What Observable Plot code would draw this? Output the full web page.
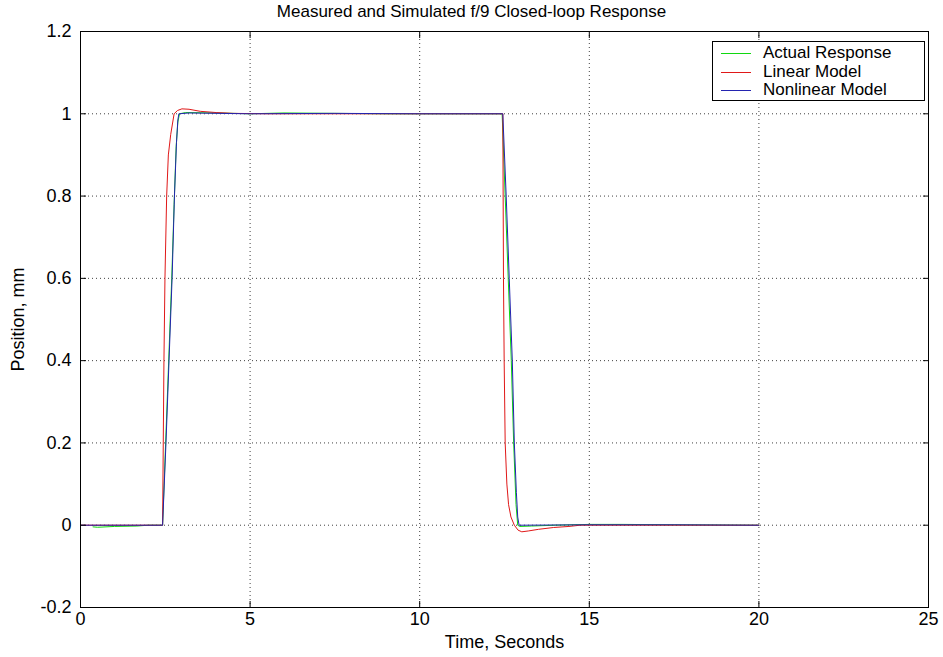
<!DOCTYPE html>
<html>
<head>
<meta charset="utf-8">
<script src="https://cdn.jsdelivr.net/npm/d3@7"></script>
<script src="https://cdn.jsdelivr.net/npm/@observablehq/plot@0.6"></script>
<style>
  body { margin: 0; background: #fff; }
  #wrap { position: relative; width: 943px; height: 657px; font-family: "Liberation Sans", Arial, sans-serif; color: #000; }
  #title { height: 24px; line-height: 24px; text-align: center; font-size: 17px; }
  #legend { position: absolute; left: 712px; top: 41px; width: 211px; height: 58px; border: 1px solid #000; background: #fff; }
  .row { position: absolute; left: 0; height: 18px; width: 100%; }
  .sw { position: absolute; left: 8px; width: 30px; top: 9px; height: 0; border-top: 1px solid; }
  .lb { position: absolute; left: 50px; top: 0; line-height: 18px; font-size: 17px; white-space: nowrap; }
</style>
</head>
<body>
<div id="wrap">
  <div id="title">Measured and Simulated f/9 Closed-loop Response</div>
  <div id="chart"></div>
  <div id="legend"></div>
</div>
<script>
// ---- data ----
const seriesNames = ["Actual Response", "Linear Model", "Nonlinear Model"];
const seriesColors = ["#10d810", "#e01818", "#2424b0"];

const xTicks = [0, 5, 10, 15, 20, 25];
const yTicks = [-0.2, 0, 0.2, 0.4, 0.6, 0.8, 1, 1.2];
const yTickLabels = ["-0.2", "0", "0.2", "0.4", "0.6", "0.8", "1", "1.2"];

const actualT = [0.37, 0.5, 1.0, 1.66, 2.0, 2.42, 2.51, 2.6, 2.69, 2.76, 2.82, 2.87, 2.92, 3.1, 4, 5, 6, 7.5, 9, 10, 12.43, 12.52, 12.61, 12.7, 12.77, 12.84, 12.89, 12.95, 13.3, 14, 15, 16, 17.5, 20];
const actualY = [-0.004, -0.005, -0.003, -0.002, 0, 0, 0.2, 0.4, 0.6, 0.78, 0.92, 0.98, 1.0, 1.003, 1.002, 1.0, 1.002, 1.001, 1.0, 1.0, 1.0, 0.8, 0.6, 0.4, 0.2, 0.05, 0.0, -0.003, -0.002, 0, 0.002, 0.002, 0.001, 0];

const linearT = [0, 2.42, 2.44, 2.46, 2.49, 2.54, 2.59, 2.66, 2.76, 2.86, 2.99, 3.2, 3.53, 4.0, 4.5, 5.5, 7.5, 10, 12.45, 12.46, 12.47, 12.49, 12.52, 12.57, 12.62, 12.69, 12.79, 12.9, 13.01, 13.2, 13.5, 13.94, 14.4, 14.73, 17.5, 20];
const linearY = [0, 0, 0.2, 0.4, 0.6, 0.8, 0.9, 0.95, 1.0, 1.008, 1.012, 1.011, 1.006, 1.003, 1.001, 1.0, 1.0, 1.0, 1.0, 0.8, 0.6, 0.4, 0.2, 0.1, 0.05, 0.02, 0, -0.012, -0.016, -0.014, -0.01, -0.0056, -0.003, 0, 0, 0];

const nonlinT = [0, 2.42, 2.52, 2.61, 2.70, 2.77, 2.83, 2.87, 2.9, 3.2, 5, 7.5, 10, 12.45, 12.55, 12.64, 12.73, 12.79, 12.85, 12.89, 12.93, 15, 17.5, 20];
const nonlinY = [0, 0, 0.2, 0.4, 0.6, 0.8, 0.93, 0.985, 1.0, 1.002, 1.0, 1.001, 1.0, 1.0, 0.8, 0.6, 0.4, 0.2, 0.08, 0.02, 0, 0.001, 0.001, 0];

const xLabel = "Time, Seconds";
const yLabel = "Position, mm";

// ---- build ----
const toRows = (T, Y) => T.map((t, i) => ({t, v: Y[i]}));
const series = [toRows(actualT, actualY), toRows(linearT, linearY), toRows(nonlinT, nonlinY)];
const innerX = xTicks.slice(1, -1);
const innerY = yTicks.slice(1, -1);
const fmtY = d => yTickLabels[yTicks.indexOf(d)];

const chart = Plot.plot({
  width: 943,
  height: 633,
  marginLeft: 80,
  marginRight: 15,
  marginTop: 7,
  marginBottom: 50,
  style: {fontFamily: "Liberation Sans, Arial, sans-serif", fontSize: "18px", color: "#000", background: "#fff", overflow: "visible"},
  x: {domain: [0, 25]},
  y: {domain: [-0.2, 1.2]},
  marks: [
    Plot.gridX(innerX, {stroke: "#000", strokeOpacity: 0.75, strokeDasharray: "1,3"}),
    Plot.gridY(innerY, {stroke: "#000", strokeOpacity: 0.75, strokeDasharray: "1,3"}),
    ...series.map((s, i) => Plot.line(s, {x: "t", y: "v", stroke: seriesColors[i], strokeWidth: 1})),
    Plot.frame({stroke: "#000", strokeWidth: 1}),
    // inward ticks on all four sides
    Plot.axisX(xTicks, {anchor: "bottom", tickSize: 6, dy: -6, tickFormat: () => "", label: null}),
    Plot.axisX(xTicks, {anchor: "top", tickSize: 6, dy: 6, tickFormat: () => "", label: null}),
    Plot.axisY(yTicks, {anchor: "left", tickSize: 6, dx: 6, tickFormat: () => "", label: null}),
    Plot.axisY(yTicks, {anchor: "right", tickSize: 6, dx: -6, tickFormat: () => "", label: null}),
    // labels
    Plot.axisX(xTicks, {anchor: "bottom", tickSize: 0, tickPadding: 5, fontSize: 18, label: xLabel, labelAnchor: "center", labelArrow: "none", labelOffset: 40}),
    Plot.axisY(yTicks, {anchor: "left", tickSize: 0, tickPadding: 9, fontSize: 18, tickFormat: fmtY, label: yLabel, labelAnchor: "center", labelArrow: "none", labelOffset: 69})
  ]
});
document.getElementById("chart").appendChild(chart);

// legend
const legend = document.getElementById("legend");
const rowCenters = [11, 29.5, 48];
seriesNames.forEach((name, i) => {
  const row = document.createElement("div");
  row.className = "row";
  row.style.top = (rowCenters[i] - 9) + "px";
  const sw = document.createElement("div");
  sw.className = "sw";
  sw.style.borderTopColor = seriesColors[i];
  const lb = document.createElement("span");
  lb.className = "lb";
  lb.textContent = name;
  row.appendChild(sw);
  row.appendChild(lb);
  legend.appendChild(row);
});
</script>
</body>
</html>
